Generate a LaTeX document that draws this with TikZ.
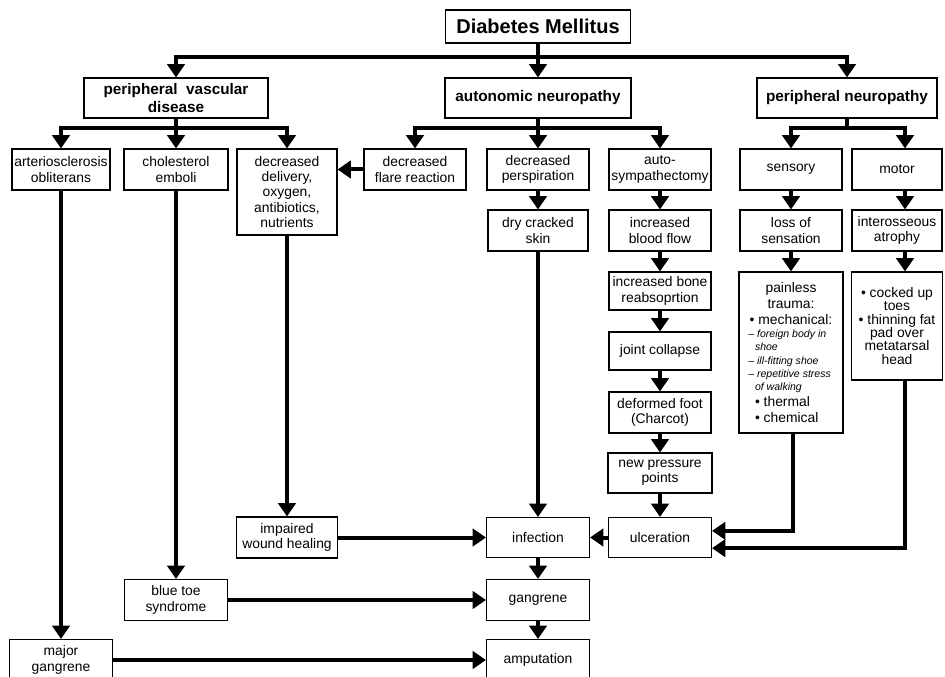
\documentclass[tikz,border=0pt]{standalone}
\usepackage{fontspec}
\setmainfont{Liberation Sans}
\usetikzlibrary{shapes,arrows.meta,positioning}
\tikzstyle{box} = [rectangle, draw=black, line width=0.8pt, align=center, inner sep=1pt, font=\fontsize{10.4}{11.5}\selectfont]
\tikzstyle{head} = [box, font=\bfseries\fontsize{11.5}{13}\selectfont]
\tikzstyle{arrow} = [-{Triangle[length=10pt,width=13pt]}, line width=3pt]
\tikzstyle{trunk} = [line width=3pt]
\tikzset{boxsize/.style 2 args={minimum width=#1*0.75pt, minimum height=#2*0.75pt}}
\newcommand{\trline}[1]{\makebox[64pt][l]{\fontsize{7.9}{9}\selectfont\itshape #1}}
\newcommand{\trbul}[1]{\makebox[64pt][l]{\hspace{5pt}\textbullet\ #1}}

\begin{document}
\begin{tikzpicture}[x=0.75pt, y=-0.75pt]
  \useasboundingbox (0,0) rectangle (945,677);
  \node[head, boxsize={185}{33}, font=\bfseries\fontsize{15}{17}\selectfont](dm) at (538,26.5){Diabetes Mellitus};
  \node[head, boxsize={184}{40}](pvd) at (176,98){peripheral~ vascular\\disease};
  \node[head, boxsize={186}{40}](an) at (538,98){autonomic neuropathy};
  \node[head, boxsize={180}{40}](pn) at (847,98){peripheral neuropathy};

  \node[box, boxsize={98}{41}](ao) at (61,169.5){arteriosclerosis\\obliterans};
  \node[box, boxsize={104}{41}](ce) at (176,169.5){cholesterol\\emboli};
  \node[box, boxsize={100}{86}](dd) at (287,192){decreased\\delivery,\\oxygen,\\antibiotics,\\nutrients};
  \node[box, boxsize={102}{41}](dfr) at (415,169.5){decreased\\flare reaction};
  \node[box, boxsize={102}{41}](dp) at (538,169.5){decreased\\perspiration};
  \node[box, boxsize={102}{41}](as) at (660,169.5){auto-\\sympathectomy};
  \node[box, boxsize={102}{41}](sen) at (791,169.5){sensory};
  \node[box, boxsize={90}{41}](mot) at (897,169.5){motor};

  \node[box, boxsize={100}{41}](dcs) at (538,230.5){dry cracked\\skin};
  \node[box, boxsize={102}{41}](ibf) at (660,230.5){increased\\blood flow};
  \node[box, boxsize={102}{41}](los) at (791,230.5){loss of\\sensation};
  \node[box, boxsize={90}{41}](ia) at (897,230.5){interosseous\\atrophy};

  \node[box, boxsize={102}{38}](ibr) at (660,291){increased bone\\reabsoprtion};
  \node[box, boxsize={104}{161}, font=\fontsize{10.4}{12}\selectfont](pt) at (791,352.5){painless\\trauma:\\\textbullet\ mechanical:\\[-2pt]
    \trline{-- foreign body in}\\[-2pt]
    \trline{\hspace{5pt}shoe}\\[-2pt]
    \trline{-- ill-fitting shoe}\\[-2pt]
    \trline{-- repetitive stress}\\[-2pt]
    \trline{\hspace{5pt}of walking}\\
    \trbul{thermal}\\
    \trbul{chemical}};
  \node[box, boxsize={91}{108}, font=\fontsize{10.4}{10}\selectfont](cut) at (897,326){\textbullet\ cocked up\\toes\\\textbullet\ thinning fat\\pad over\\metatarsal\\head};
  \node[box, boxsize={102}{38}](jc) at (660,351){joint collapse};
  \node[box, boxsize={102}{41}](df) at (660,412.5){deformed foot\\(Charcot)};
  \node[box, boxsize={104}{40}](npp) at (660,473){new pressure\\points};

  \node[box, boxsize={101}{41}](iwh) at (287,537.5){impaired\\wound healing};
  \node[box, boxsize={103}{40}](inf) at (538,537.5){infection};
  \node[box, boxsize={103}{40}](ulc) at (660,537.5){ulceration};
  \node[box, boxsize={103}{41}](bts) at (176,600){blue toe\\syndrome};
  \node[box, boxsize={103}{41}](gan) at (538,600){gangrene};
  \node[box, boxsize={103}{41}](mg) at (61,660){major\\gangrene};
  \node[box, boxsize={103}{41}](amp) at (538,660){amputation};

  \coordinate (b0) at (538,57);
  \coordinate (b1) at (176,128);
  \coordinate (b2) at (538,128);
  \coordinate (b3) at (847,128);
  \draw[arrow](dm) -- (an);
  \draw[arrow](b0) -| (pvd);
  \draw[arrow](b0) -| (pn);
  \draw[arrow](pvd) -- (ce);
  \draw[arrow](b1) -| (ao);
  \draw[arrow](b1) -| (dd);
  \draw[arrow](an) -- (dp);
  \draw[arrow](b2) -| (dfr);
  \draw[arrow](b2) -| (as);
  \draw[trunk](pn) -- (b3);
  \draw[arrow](b3) -| (sen);
  \draw[arrow](b3) -| ([xshift=6pt]mot.north);
  \draw[arrow](dfr.west) -- (dfr.west -| dd.east);

  \draw[arrow](dp) -- (dcs);
  \draw[arrow](as) -- (ibf);
  \draw[arrow](ibf) -- (ibr);
  \draw[arrow](ibr) -- (jc);
  \draw[arrow](jc) -- (df);
  \draw[arrow](df) -- (npp);
  \draw[arrow](npp) -- (ulc);
  \draw[arrow](sen) -- (los);
  \draw[arrow](los) -- (pt);
  \draw[arrow]([xshift=6pt]mot.south) -- ([xshift=6pt]ia.north);
  \draw[arrow]([xshift=6pt]ia.south) -- ([xshift=6pt]cut.north);

  \draw[arrow](ao) -- (mg);
  \draw[arrow](ce) -- (bts);
  \draw[arrow](dd) -- (iwh);
  \draw[arrow](dcs) -- (inf);
  \draw[arrow]([xshift=1.5pt]pt.south) |- ([yshift=5pt]ulc.east);
  \draw[arrow]([xshift=6pt]cut.south) |- ([yshift=-8pt]ulc.east);
  \draw[arrow](ulc) -- (inf);
  \draw[arrow](iwh) -- (inf);
  \draw[arrow](inf) -- (gan);
  \draw[arrow](bts) -- (gan);
  \draw[arrow](gan) -- (amp);
  \draw[arrow](mg) -- (amp);
\end{tikzpicture}
\end{document}
